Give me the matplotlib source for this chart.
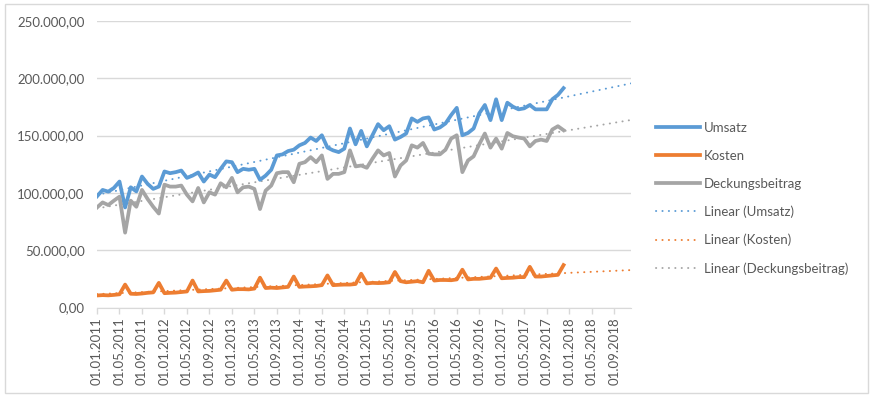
import numpy as np
import matplotlib
matplotlib.use('Agg')
import matplotlib.pyplot as plt
from matplotlib.patches import Rectangle
from matplotlib.ticker import FuncFormatter

# monthly values 01.01.2011 .. 01.12.2017
umsatz = [97.0, 102.6, 101.1, 104.3, 109.9, 87.3, 104.9, 101.3, 114.3, 107.9, 103.5, 105.5,
          118.7, 117.2, 118.1, 119.5, 113.1, 115.1, 117.8, 109.9, 116.0, 113.7, 121.0, 127.5,
          126.8, 118.1, 121.0, 120.2, 121.0, 111.4, 115.1, 120.2, 132.7, 133.6, 136.5, 137.7,
          141.5, 143.6, 148.3, 145.3, 150.3, 139.5, 137.1, 135.6, 138.6, 156.2, 142.4, 154.1,
          140.6, 150.3, 160.0, 154.7, 158.2, 146.5, 148.8, 151.8, 165.0, 162.0, 165.0, 165.9,
          155.3, 157.1, 160.6, 167.9, 174.2, 150.3, 152.3, 156.2, 169.4, 176.7, 163.5, 181.7,
          163.5, 178.7, 175.2, 172.9, 173.8, 176.7, 172.9, 172.9, 172.9, 181.7, 185.5, 191.4]
kosten = [10.5, 10.8, 10.6, 11.0, 11.5, 20.0, 12.0, 11.8, 12.2, 12.8, 13.2, 21.5,
          12.5, 12.8, 13.0, 13.5, 14.0, 23.5, 14.0, 14.3, 14.5, 15.0, 15.5, 23.5,
          15.5, 16.0, 16.0, 15.8, 16.5, 26.0, 17.0, 17.3, 17.0, 17.5, 18.0, 27.0,
          18.0, 18.3, 18.5, 18.8, 19.5, 28.0, 19.5, 19.8, 20.0, 20.0, 20.5, 29.5,
          21.0, 21.5, 21.3, 21.5, 22.0, 31.0, 23.0, 22.0, 22.5, 23.0, 22.0, 32.0,
          23.5, 24.0, 24.0, 23.8, 24.5, 33.0, 24.5, 25.0, 25.0, 25.5, 26.0, 34.0,
          25.5, 25.8, 26.0, 26.5, 26.5, 35.5, 27.0, 27.0, 27.5, 28.0, 28.5, 37.0]
deckungsbeitrag = [87.3, 91.7, 89.4, 93.2, 96.7, 65.3, 93.2, 87.9, 102.6, 94.7, 87.9, 82.0,
                   107.2, 105.5, 105.5, 106.4, 98.4, 92.6, 104.3, 91.7, 100.5, 98.5, 108.4, 104.9,
                   113.1, 100.5, 104.9, 105.5, 103.5, 85.9, 102.0, 106.4, 117.2, 118.1, 118.1, 109.3,
                   125.4, 126.8, 131.2, 126.8, 132.7, 112.2, 116.6, 116.6, 118.1, 137.1, 123.1, 123.9,
                   121.9, 129.8, 137.1, 132.7, 134.8, 114.3, 123.9, 128.3, 141.5, 139.5, 143.6, 134.2,
                   133.6, 133.6, 137.7, 147.4, 150.3, 118.1, 128.3, 131.9, 142.4, 151.8, 139.5, 147.4,
                   138.6, 152.3, 149.4, 148.3, 147.4, 140.6, 145.3, 146.5, 145.3, 155.3, 158.2, 154.7]

tick_labels = ['01.01.2011', '01.05.2011', '01.09.2011', '01.01.2012', '01.05.2012', '01.09.2012',
               '01.01.2013', '01.05.2013', '01.09.2013', '01.01.2014', '01.05.2014', '01.09.2014',
               '01.01.2015', '01.05.2015', '01.09.2015', '01.01.2016', '01.05.2016', '01.09.2016',
               '01.01.2017', '01.05.2017', '01.09.2017', '01.01.2018', '01.05.2018', '01.09.2018']

names = ['Umsatz', 'Kosten', 'Deckungsbeitrag']
colors = ['#5B9BD5', '#ED7D31', '#A5A5A5']
n_months = 96  # axis runs until 01.12.2018, trend forecast 12 months

txt = '#595959'
plt.rcParams['font.family'] = ['Lato', 'DejaVu Sans']

fig = plt.figure(figsize=(8.73, 3.97), dpi=100)
W, H = 873, 397
ax = fig.add_axes([97 / W, 1 - 307.5 / H, (631 - 97) / W, (307.5 - 21) / H])

x = np.arange(len(umsatz))
series = [umsatz, kosten, deckungsbeitrag]
lines = []
for vals, name, col in zip(series, names, colors):
    y = np.array(vals) * 1000
    l, = ax.plot(x, y, color=col, lw=2.7, solid_joinstyle='round', label=name, zorder=3)
    lines.append(l)

trends = []
xt = np.arange(n_months)
for vals, name, col in zip(series, names, colors):
    y = np.array(vals) * 1000
    k, d = np.polyfit(x, y, 1)
    t, = ax.plot(xt, k * xt + d, color=col, lw=1.4, linestyle=(0, (0.1, 3.2)),
                 dash_capstyle='round', label='Linear (%s)' % name, zorder=2)
    trends.append(t)

ax.set_xlim(0, n_months - 1)
ax.set_ylim(0, 250000)
ax.set_yticks(np.arange(0, 250001, 50000))
ax.yaxis.set_major_formatter(FuncFormatter(
    lambda v, p: '{:,.2f}'.format(v).replace(',', 'X').replace('.', ',').replace('X', '.')))
ax.set_xticks(np.arange(0, n_months, 4))
ax.set_xticklabels(tick_labels, rotation=90)

ax.grid(axis='y', color='#D9D9D9', lw=1)
ax.set_axisbelow(True)
for s in ['top', 'right', 'left']:
    ax.spines[s].set_visible(False)
ax.spines['bottom'].set_color('#D9D9D9')
ax.tick_params(axis='y', length=0, pad=9, labelsize=9.5, labelcolor=txt)
ax.tick_params(axis='x', length=4, width=1, color='#D9D9D9', pad=3, labelsize=9.5, labelcolor=txt)

fig.legend(handles=lines + trends, loc='upper left', bbox_to_anchor=(656 / W, 1 - 122 / H),
           frameon=False, fontsize=9.5, labelcolor=txt, handlelength=3.3, handletextpad=0.3,
           labelspacing=1.2, borderpad=0, borderaxespad=0)

fig.patches.append(Rectangle((5 / W, 4 / H), 863 / W, 389 / H, transform=fig.transFigure,
                             fill=False, edgecolor='#D9D9D9', lw=1))

fig.savefig('out.png', dpi=100)
